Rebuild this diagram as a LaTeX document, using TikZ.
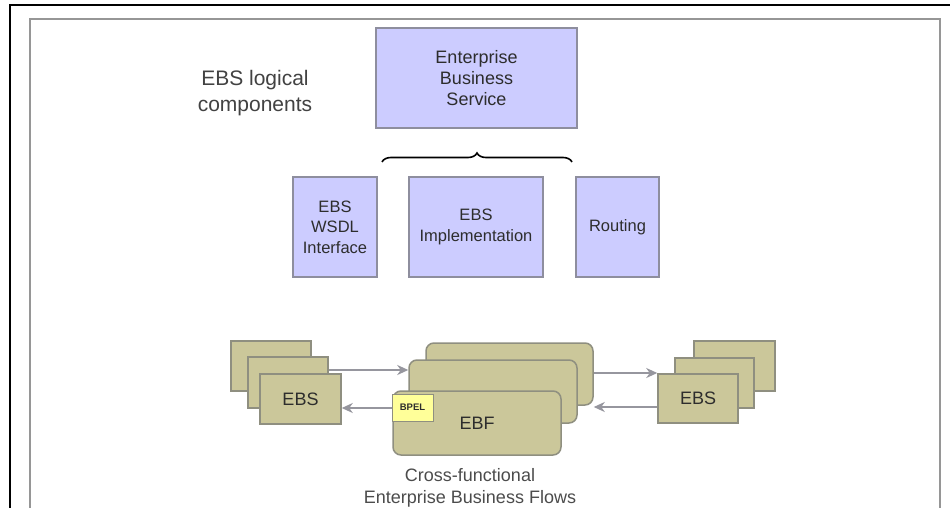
\documentclass[tikz,border=0pt]{standalone}
\usepackage{fontspec}
\setmainfont{Liberation Sans}
\usetikzlibrary{arrows.meta,decorations.pathreplacing}
\definecolor{lav}{RGB}{204,204,255}
\definecolor{lavborder}{RGB}{142,142,158}
\definecolor{olive}{RGB}{203,199,154}
\definecolor{oliveborder}{RGB}{143,143,128}
\definecolor{bpelfill}{RGB}{255,255,153}
\definecolor{arrowgray}{RGB}{150,150,158}
\definecolor{txt}{RGB}{45,45,45}
\definecolor{frame}{RGB}{150,150,150}
\tikzset{
  lavbox/.style={draw=lavborder, fill=lav, line width=1.5pt, rectangle, inner sep=0pt,
    align=center, text=txt, font=\fontsize{16.5}{20.5}\selectfont},
  olivebox/.style={draw=oliveborder, fill=olive, line width=1.5pt, rectangle, inner sep=0pt,
    align=center, text=txt, font=\fontsize{18}{21}\selectfont},
  ebfbox/.style={olivebox, rounded corners=8pt},
  bpelbox/.style={draw=oliveborder, fill=bpelfill, line width=1pt, rectangle, inner sep=0pt,
    text=txt, font=\fontsize{9.5}{10}\selectfont\bfseries},
  flow/.style={draw=arrowgray, line width=2pt, -{Stealth[length=11pt,width=10pt,inset=3.5pt]}},
}
\begin{document}
\begin{tikzpicture}[x=1pt,y=-1pt]
\useasboundingbox (0,0) rectangle (950,508);
\fill[white] (0,0) rectangle (950,508);
% outer frames
\draw[black, line width=1.5pt] (10,508) -- (10,5) -- (950,5);
\draw[frame, line width=2pt] (30,508) -- (30,19) -- (940,19) -- (940,508);

% title
\node[text=txt!90!white, align=center, font=\fontsize{21}{26}\selectfont] (title) at (255,93) {EBS logical\\components};

% top components
\node[lavbox, minimum width=201pt, minimum height=100pt, font=\fontsize{18}{21}\selectfont] (ebs) at (476.5,78) {Enterprise\\Business\\Service};
\node[lavbox, minimum width=84pt, minimum height=100pt] (wsdl) at (335,227) {EBS\\WSDL\\Interface};
\node[lavbox, minimum width=134pt, minimum height=100pt] (impl) at (476,227) {EBS\\Implementation};
\node[lavbox, minimum width=83pt, minimum height=100pt] (rout) at (617.5,227) {Routing};

% brace
\coordinate (bl) at (382,162);
\coordinate (br) at (572,162);
\draw[black, line width=1.6pt, decoration={brace, amplitude=9pt}, decorate] (bl) -- (br);

% left EBS stack
\node[olivebox, minimum width=80pt, minimum height=50pt] (lback) at (271,366) {};
\node[olivebox, minimum width=80pt, minimum height=51pt] (lmid) at (288,382.5) {};
\node[olivebox, minimum width=81pt, minimum height=50pt] (lfront) at (300.5,399) {EBS};

% right EBS stack
\node[olivebox, minimum width=81pt, minimum height=50pt] (rback) at (734.5,366) {};
\node[olivebox, minimum width=79pt, minimum height=50pt] (rmid) at (714.5,383) {};
\node[olivebox, minimum width=80pt, minimum height=49pt] (rfront) at (698,398.5) {EBS};

% EBF stack
\node[ebfbox, minimum width=167pt, minimum height=62pt] (eback) at (509.5,374) {};
\node[ebfbox, minimum width=168pt, minimum height=63pt] (emid) at (493,391.5) {};
\node[ebfbox, minimum width=168pt, minimum height=64pt] (efront) at (477,423) {EBF};
\node[bpelbox, minimum width=41pt, minimum height=27pt] (bpel) at (412.5,407.5) {BPEL};

% flows
\draw[flow] (lmid.east |- 0,370) -- (emid.west |- 0,370);
\draw[flow] (efront.west |- 0,408) -- (lfront.east |- 0,408);
\draw[flow] (eback.east |- 0,373) -- (rfront.west |- 0,373);
\draw[flow] (rfront.west |- 0,407) -- (eback.east |- 0,407);

% caption
\node[text=txt!85!white, align=center, font=\fontsize{18}{22}\selectfont] (cap) at (470,488) {Cross-functional\\Enterprise Business Flows};
\end{tikzpicture}
\end{document}
